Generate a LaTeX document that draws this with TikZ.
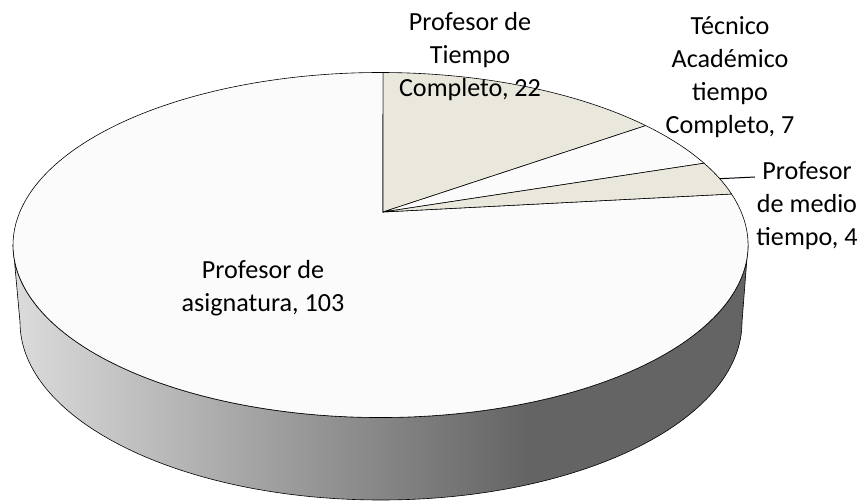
\documentclass[tikz,border=0pt]{standalone}
\usepackage{fontspec}
\setmainfont{Carlito}
\usetikzlibrary{calc}
\definecolor{pietan}{HTML}{EAE8DD}
\definecolor{piewhite}{HTML}{FBFBFB}
\definecolor{sidelight}{HTML}{DCDCDC}
\definecolor{sidedark}{HTML}{646464}
\pgfdeclarehorizontalshading{sideshade}{100bp}{color(0bp)=(sidelight); color(25bp)=(sidelight); color(60bp)=(sidedark); color(100bp)=(sidedark)}
\tikzset{
  rim/.style={x radius=367.5,y radius=172.5},
  footrim/.style={x radius=361,y radius=178},
  slice/.style={draw=black,line width=.45pt,line join=round},
  lbl/.style={align=center,font=\fontsize{19.6}{24.75}\selectfont}
}

\begin{document}
\begin{tikzpicture}[x=.75pt,y=.75pt]
\useasboundingbox (0,0) rectangle (863,503);
\coordinate (e) at (380.5,258);
\coordinate (f) at (381,181);
\coordinate (o) at (383,291);
% side of the pie
\shade[shading=sideshade,slice] ($(e)+(180:367.5 and 172.5)$) arc[rim,start angle=180,end angle=360]
  -- ($(f)+(0:361 and 178)$) arc[footrim,start angle=0,end angle=-180] -- cycle;
% top face
\coordinate (a) at ($(e)+(89.6:367.5 and 172.5)$);
\coordinate (p1) at ($(e)+(43.8:367.5 and 172.5)$);
\coordinate (p2) at ($(e)+(28.3:367.5 and 172.5)$);
\coordinate (p3) at ($(e)+(17.2:367.5 and 172.5)$);
\filldraw[slice,fill=piewhite] (o) -- (p3) arc[rim,start angle=17.2,end angle=-270.4] -- cycle;
\filldraw[slice,fill=pietan] (o) -- (a) arc[rim,start angle=89.6,end angle=43.8] -- cycle;
\filldraw[slice,fill=piewhite] (o) -- (p1) arc[rim,start angle=43.8,end angle=28.3] -- cycle;
\filldraw[slice,fill=pietan] (o) -- (p2) arc[rim,start angle=28.3,end angle=17.2] -- cycle;
% labels
\node[lbl] (asig) at (263,215) {Profesor de\\asignatura, 103};
\node[lbl] (ptc) at (470,446) {Profesor de\\Tiempo\\Completo, 22};
\node[lbl] (tec) at (730,426) {Técnico\\Académico\\tiempo\\Completo, 7};
\node[lbl] (pmt) at (807,297) {Profesor\\de medio\\tiempo, 4};
\coordinate (m) at ($(e)+(22.6:367.5 and 172.5)$);
\coordinate (mend) at (755,326);
\draw[line width=.75pt] (m) -- (mend);
\end{tikzpicture}
\end{document}
